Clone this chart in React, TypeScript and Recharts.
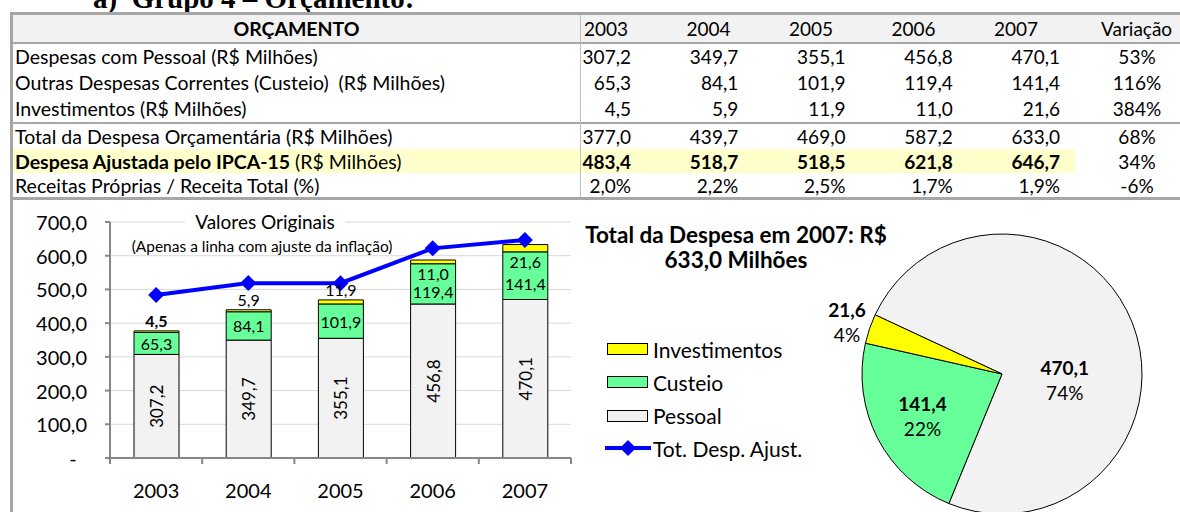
import React from "react";
import {
  Bar,
  CartesianGrid,
  Cell,
  ComposedChart,
  LabelList,
  Line,
  Pie,
  PieChart,
  XAxis,
  YAxis,
} from "recharts";

const FONT = "Lato, 'Noto Sans', sans-serif";

const years = ["2003", "2004", "2005", "2006", "2007"];
const pessoal = [307.2, 349.7, 355.1, 456.8, 470.1];
const custeio = [65.3, 84.1, 101.9, 119.4, 141.4];
const investimentos = [4.5, 5.9, 11.9, 11.0, 21.6];
const totalDespesa = [377.0, 439.7, 469.0, 587.2, 633.0];
const despesaAjustada = [483.4, 518.7, 518.5, 621.8, 646.7];
const receitaPropria = [2.0, 2.2, 2.5, 1.7, 1.9];
const variacao = ["53%", "116%", "384%", "68%", "34%", "-6%"];
const yTicks = [0, 100, 200, 300, 400, 500, 600, 700];

const COLORS = {
  pessoal: "#f2f2f2",
  custeio: "#66ff99",
  investimentos: "#ffff00",
  linha: "#0000ff",
};
const AXIS = "#868686";
const BORDER = "#a6a6a6";

const fmt = (v: number) => v.toFixed(1).replace(".", ",");

const barData = years.map((ano, i) => ({
  ano,
  pessoal: pessoal[i],
  custeio: custeio[i],
  investimentos: investimentos[i],
  ajustada: despesaAjustada[i],
}));

const pieData = [
  { name: "Pessoal", value: pessoal[4], fill: COLORS.pessoal },
  { name: "Custeio", value: custeio[4], fill: COLORS.custeio },
  { name: "Investimentos", value: investimentos[4], fill: COLORS.investimentos },
];

// largest remainder, so the slices add up to 100%
function roundedPercents(vals: number[]) {
  const total = vals.reduce((a, b) => a + b, 0);
  const raw = vals.map((v) => (v / total) * 100);
  const out = raw.map(Math.floor);
  const left = 100 - out.reduce((a, b) => a + b, 0);
  const order = raw
    .map((r, i) => [r - Math.floor(r), i])
    .sort((a, b) => b[0] - a[0]);
  for (let k = 0; k < left; k++) out[order[k][1]]++;
  return out;
}
const piePercents = roundedPercents(pieData.map((d) => d.value));

// ---- bar chart geometry
const BC_W = 600;
const BC_H = 312;
const BC_MARGIN = { top: 22, right: 29, bottom: 0, left: 0 };
const Y_W = 110;
const X_H = 54;
const HALF_BAND = (BC_W - Y_W - BC_MARGIN.right) / years.length / 2;

const XTick = (props: any) => {
  const { x, y, payload, index } = props;
  return (
    <g>
      <line x1={x - HALF_BAND} x2={x - HALF_BAND} y1={y} y2={y + 6} stroke={AXIS} strokeWidth={2} />
      {index === years.length - 1 && (
        <line x1={x + HALF_BAND} x2={x + HALF_BAND} y1={y} y2={y + 6} stroke={AXIS} strokeWidth={2} />
      )}
      <text x={x} y={y + 32} textAnchor="middle" dominantBaseline="central" fontSize={20} fontFamily={FONT} fill="#000">
        {payload.value}
      </text>
    </g>
  );
};

const YTick = (props: any) => {
  const { x, y, payload } = props;
  const zero = payload.value === 0;
  return (
    <text
      x={zero ? x - 14 : x}
      y={y}
      textAnchor={zero ? "middle" : "end"}
      dominantBaseline="central"
      fontSize={20}
      fontFamily={FONT}
      fill="#000"
    >
      {zero ? "-" : fmt(payload.value)}
    </text>
  );
};

const box = (p: any) => {
  const vb = p.viewBox ?? p;
  return { x: vb.x, y: vb.y, width: vb.width, height: vb.height };
};

const PessoalLabel = (p: any) => {
  const { x, y, width, height } = box(p);
  const cx = x + width / 2;
  const cy = y + height / 2;
  return (
    <text
      x={cx}
      y={cy}
      transform={`rotate(-90 ${cx} ${cy})`}
      textAnchor="middle"
      dominantBaseline="central"
      fontSize={17}
      fontFamily={FONT}
      fill="#000"
    >
      {fmt(p.value)}
    </text>
  );
};

const CusteioLabel = (p: any) => {
  const { x, y, width, height } = box(p);
  const shift = p.index >= 3 ? 8 : 0;
  return (
    <text x={x + width / 2} y={y + height / 2 + shift} textAnchor="middle" dominantBaseline="central" fontSize={16} fontFamily={FONT} fill="#000">
      {fmt(p.value)}
    </text>
  );
};

const InvestLabel = (p: any) => {
  const { x, y, width, height } = box(p);
  // small slices: label above the bar; taller bars: inside the green part
  const ty = p.index >= 3 ? y + height + 10 : y - 10;
  return (
    <text
      x={x + width / 2}
      y={ty}
      textAnchor="middle"
      dominantBaseline="central"
      fontSize={16}
      fontWeight={p.index === 0 ? 700 : 400}
      fontFamily={FONT}
      fill="#000"
    >
      {fmt(p.value)}
    </text>
  );
};

const Diamond = (p: any) => {
  const { cx, cy } = p;
  const s = 8;
  return (
    <polygon
      points={`${cx},${cy - s} ${cx + s},${cy} ${cx},${cy + s} ${cx - s},${cy}`}
      fill={COLORS.linha}
    />
  );
};

// ---- pie labels
const RAD = Math.PI / 180;
const pieLabelNudge: Record<string, { r: number; angle?: number }> = {
  Pessoal: { r: 0.45, angle: -5 },
  Custeio: { r: 0.64 },
  Investimentos: { r: 1.17 },
};

const PieLabel = (p: any) => {
  const { cx, cy, midAngle, outerRadius, index } = p;
  const name = pieData[index].name;
  const nudge = pieLabelNudge[name];
  const ang = nudge.angle ?? midAngle;
  const r = outerRadius * nudge.r;
  const x = cx + r * Math.cos(-ang * RAD);
  const y = cy + r * Math.sin(-ang * RAD);
  return (
    <g>
      <text x={x} y={y - 12} textAnchor="middle" dominantBaseline="central" fontSize={19} fontWeight={700} fontFamily={FONT} fill="#000">
        {fmt(pieData[index].value)}
      </text>
      <text x={x} y={y + 13} textAnchor="middle" dominantBaseline="central" fontSize={19} fontFamily={FONT} fill="#000">
        {piePercents[index]}%
      </text>
    </g>
  );
};

// ---- table
const tableRows = [
  { label: "Despesas com Pessoal (R$ Milhões)", values: pessoal.map(fmt) },
  { label: "Outras Despesas Correntes (Custeio)\u00a0\u00a0(R$ Milhões)", values: custeio.map(fmt) },
  { label: "Investimentos (R$ Milhões)", values: investimentos.map(fmt) },
  { label: "Total da Despesa Orçamentária (R$ Milhões)", values: totalDespesa.map(fmt) },
  { label: "Despesa Ajustada pelo IPCA-15", extra: " (R$ Milhões)", values: despesaAjustada.map(fmt), bold: true },
  { label: "Receitas Próprias / Receita Total (%)", values: receitaPropria.map((v) => fmt(v) + "%") },
];
const HEAD_TOP = 15;
const HEAD_H = 27;
const ROW_TOPS = [44, 70, 96, 124, 149, 173];
const ROW_H = 25;
const HEAD_LEFT = years.map((_, k) => 584 + 102.5 * k);
const VAL_RIGHT = years.map((_, k) => 631 + 107.25 * k);
const VAR_CENTER = 1137;
const TABLE_FS = 19.5;
const VALUE_FS = 19;

function Table() {
  const abs = (s: React.CSSProperties): React.CSSProperties => ({ position: "absolute", ...s });
  return (
    <>
      <div style={abs({ left: 13, top: HEAD_TOP, width: 1167, height: HEAD_H, background: "#f2f2f2" })} />
      <div style={abs({ left: 13, top: ROW_TOPS[4], width: 1062, height: ROW_H - 1, background: "#ffffcc" })} />
      <div style={abs({ left: 10, top: 12, width: 1170, height: 3, background: BORDER })} />
      <div style={abs({ left: 10, top: 12, width: 3, height: 500, background: BORDER })} />
      <div style={abs({ left: 13, top: 42, width: 1167, height: 2, background: BORDER })} />
      <div style={abs({ left: 13, top: 122, width: 1167, height: 2, background: BORDER })} />
      <div style={abs({ left: 13, top: 197, width: 1167, height: 3, background: BORDER })} />
      <div style={abs({ left: 580, top: 15, width: 1, height: 182, background: "#bfbfbf" })} />

      <div style={abs({ left: 13, top: HEAD_TOP, width: 567, height: HEAD_H, lineHeight: `${HEAD_H}px`, textAlign: "center", fontWeight: 700, fontSize: TABLE_FS })}>
        ORÇAMENTO
      </div>
      {years.map((y, k) => (
        <div key={y} style={abs({ left: HEAD_LEFT[k], top: HEAD_TOP, height: HEAD_H, lineHeight: `${HEAD_H}px`, fontSize: VALUE_FS })}>
          {y}
        </div>
      ))}
      <div style={abs({ left: 1101, top: HEAD_TOP, height: HEAD_H, lineHeight: `${HEAD_H}px`, fontSize: VALUE_FS })}>Variação</div>

      {tableRows.map((row, r) => (
        <React.Fragment key={row.label}>
          <div style={abs({ left: 15, top: ROW_TOPS[r], height: ROW_H, lineHeight: `${ROW_H}px`, fontSize: TABLE_FS, whiteSpace: "pre" })}>
            <span style={{ fontWeight: row.bold ? 700 : 400 }}>{row.label}</span>
            {row.extra}
          </div>
          {row.values.map((v, k) => (
            <div
              key={k}
              style={abs({
                left: VAL_RIGHT[k] - 100,
                width: 100,
                textAlign: "right",
                top: ROW_TOPS[r],
                height: ROW_H,
                lineHeight: `${ROW_H}px`,
                fontSize: VALUE_FS,
                fontWeight: row.bold ? 700 : 400,
              })}
            >
              {v}
            </div>
          ))}
          <div style={abs({ left: VAR_CENTER - 50, width: 100, textAlign: "center", top: ROW_TOPS[r], height: ROW_H, lineHeight: `${ROW_H}px`, fontSize: VALUE_FS })}>
            {variacao[r]}
          </div>
        </React.Fragment>
      ))}
    </>
  );
}

const legendItems = [
  { label: "Investimentos", color: COLORS.investimentos },
  { label: "Custeio", color: COLORS.custeio },
  { label: "Pessoal", color: COLORS.pessoal },
];

export default function App() {
  return (
    <div
      style={{
        position: "absolute",
        left: 0,
        top: 0,
        width: 1180,
        height: 512,
        overflow: "hidden",
        background: "#fff",
        fontFamily: FONT,
        color: "#000",
      }}
    >
      <svg width={600} height={14} style={{ position: "absolute", left: 0, top: 0 }}>
        <text x={93} y={8} fontFamily="'Liberation Serif', serif" fontWeight={700} fontSize={29} fill="#000">
          a)&nbsp;&nbsp;Grupo 4 – Orçamento:
        </text>
      </svg>

      <Table />

      <div style={{ position: "absolute", left: 0, top: 200 }}>
        <ComposedChart width={BC_W} height={BC_H} data={barData} margin={BC_MARGIN}>
          <CartesianGrid vertical={false} stroke="#d9d9d9" />
          <XAxis
            dataKey="ano"
            height={X_H}
            axisLine={{ stroke: AXIS, strokeWidth: 2 }}
            tickLine={false}
            tickSize={0}
            tickMargin={0}
            tick={<XTick />}
            interval={0}
          />
          <YAxis
            width={Y_W}
            domain={[0, 700]}
            ticks={yTicks}
            interval={0}
            axisLine={{ stroke: AXIS, strokeWidth: 2 }}
            tickLine={{ stroke: AXIS, strokeWidth: 2 }}
            tickSize={5}
            tickMargin={18}
            tick={<YTick />}
          />
          <Bar dataKey="pessoal" stackId="a" barSize={45} fill={COLORS.pessoal} stroke="#000" strokeWidth={1} isAnimationActive={false}>
            <LabelList dataKey="pessoal" content={<PessoalLabel />} />
          </Bar>
          <Bar dataKey="custeio" stackId="a" barSize={45} fill={COLORS.custeio} stroke="#000" strokeWidth={1} isAnimationActive={false}>
            <LabelList dataKey="custeio" content={<CusteioLabel />} />
          </Bar>
          <Bar dataKey="investimentos" stackId="a" barSize={45} fill={COLORS.investimentos} stroke="#000" strokeWidth={1} isAnimationActive={false}>
            <LabelList dataKey="investimentos" content={<InvestLabel />} />
          </Bar>
          <Line
            dataKey="ajustada"
            stroke={COLORS.linha}
            strokeWidth={4}
            dot={<Diamond />}
            activeDot={false}
            isAnimationActive={false}
          />
        </ComposedChart>
      </div>

      <div
        style={{
          position: "absolute",
          left: 185,
          top: 210,
          width: 160,
          textAlign: "center",
          fontSize: 19,
          lineHeight: "24px",
          background: "#fff",
        }}
      >
        Valores Originais
      </div>
      <div style={{ position: "absolute", left: 92, top: 236, width: 340, textAlign: "center", fontSize: 15.5, lineHeight: "20px" }}>
        (Apenas a linha com ajuste da inflação)
      </div>

      {legendItems.map((it, i) => (
        <div key={it.label} style={{ position: "absolute", left: 607, top: 349 + 33.3 * i - 13, height: 26, display: "flex", alignItems: "center" }}>
          <div style={{ width: 41, height: 12, boxSizing: "border-box", border: "1.5px solid #000", background: it.color }} />
          <span style={{ marginLeft: 5, fontSize: 21 }}>{it.label}</span>
        </div>
      ))}
      <div style={{ position: "absolute", left: 605, top: 448 - 13, height: 26, display: "flex", alignItems: "center" }}>
        <svg width={46} height={24}>
          <line x1={0} x2={46} y1={12} y2={12} stroke={COLORS.linha} strokeWidth={4} />
          <polygon points="23,4 31,12 23,20 15,12" fill={COLORS.linha} />
        </svg>
        <span style={{ marginLeft: 2, fontSize: 21 }}>Tot. Desp. Ajust.</span>
      </div>

      <div style={{ position: "absolute", left: 556, top: 223, width: 360, textAlign: "center", fontSize: 22.5, fontWeight: 700, lineHeight: "24px" }}>
        Total da Despesa em 2007: R$
      </div>
      <div style={{ position: "absolute", left: 556, top: 248, width: 360, textAlign: "center", fontSize: 22.5, fontWeight: 700, lineHeight: "24px" }}>
        {fmt(totalDespesa[4])} Milhões
      </div>

      <div style={{ position: "absolute", left: 817, top: 189 }}>
        <PieChart width={360} height={323}>
          <Pie
            data={pieData}
            dataKey="value"
            nameKey="name"
            cx={180}
            cy={180}
            outerRadius={140}
            startAngle={155}
            endAngle={-205}
            stroke="#000"
            strokeWidth={1}
            label={PieLabel}
            labelLine={false}
            isAnimationActive={false}
          >
            {pieData.map((d) => (
              <Cell key={d.name} fill={d.fill} />
            ))}
          </Pie>
        </PieChart>
      </div>
    </div>
  );
}
